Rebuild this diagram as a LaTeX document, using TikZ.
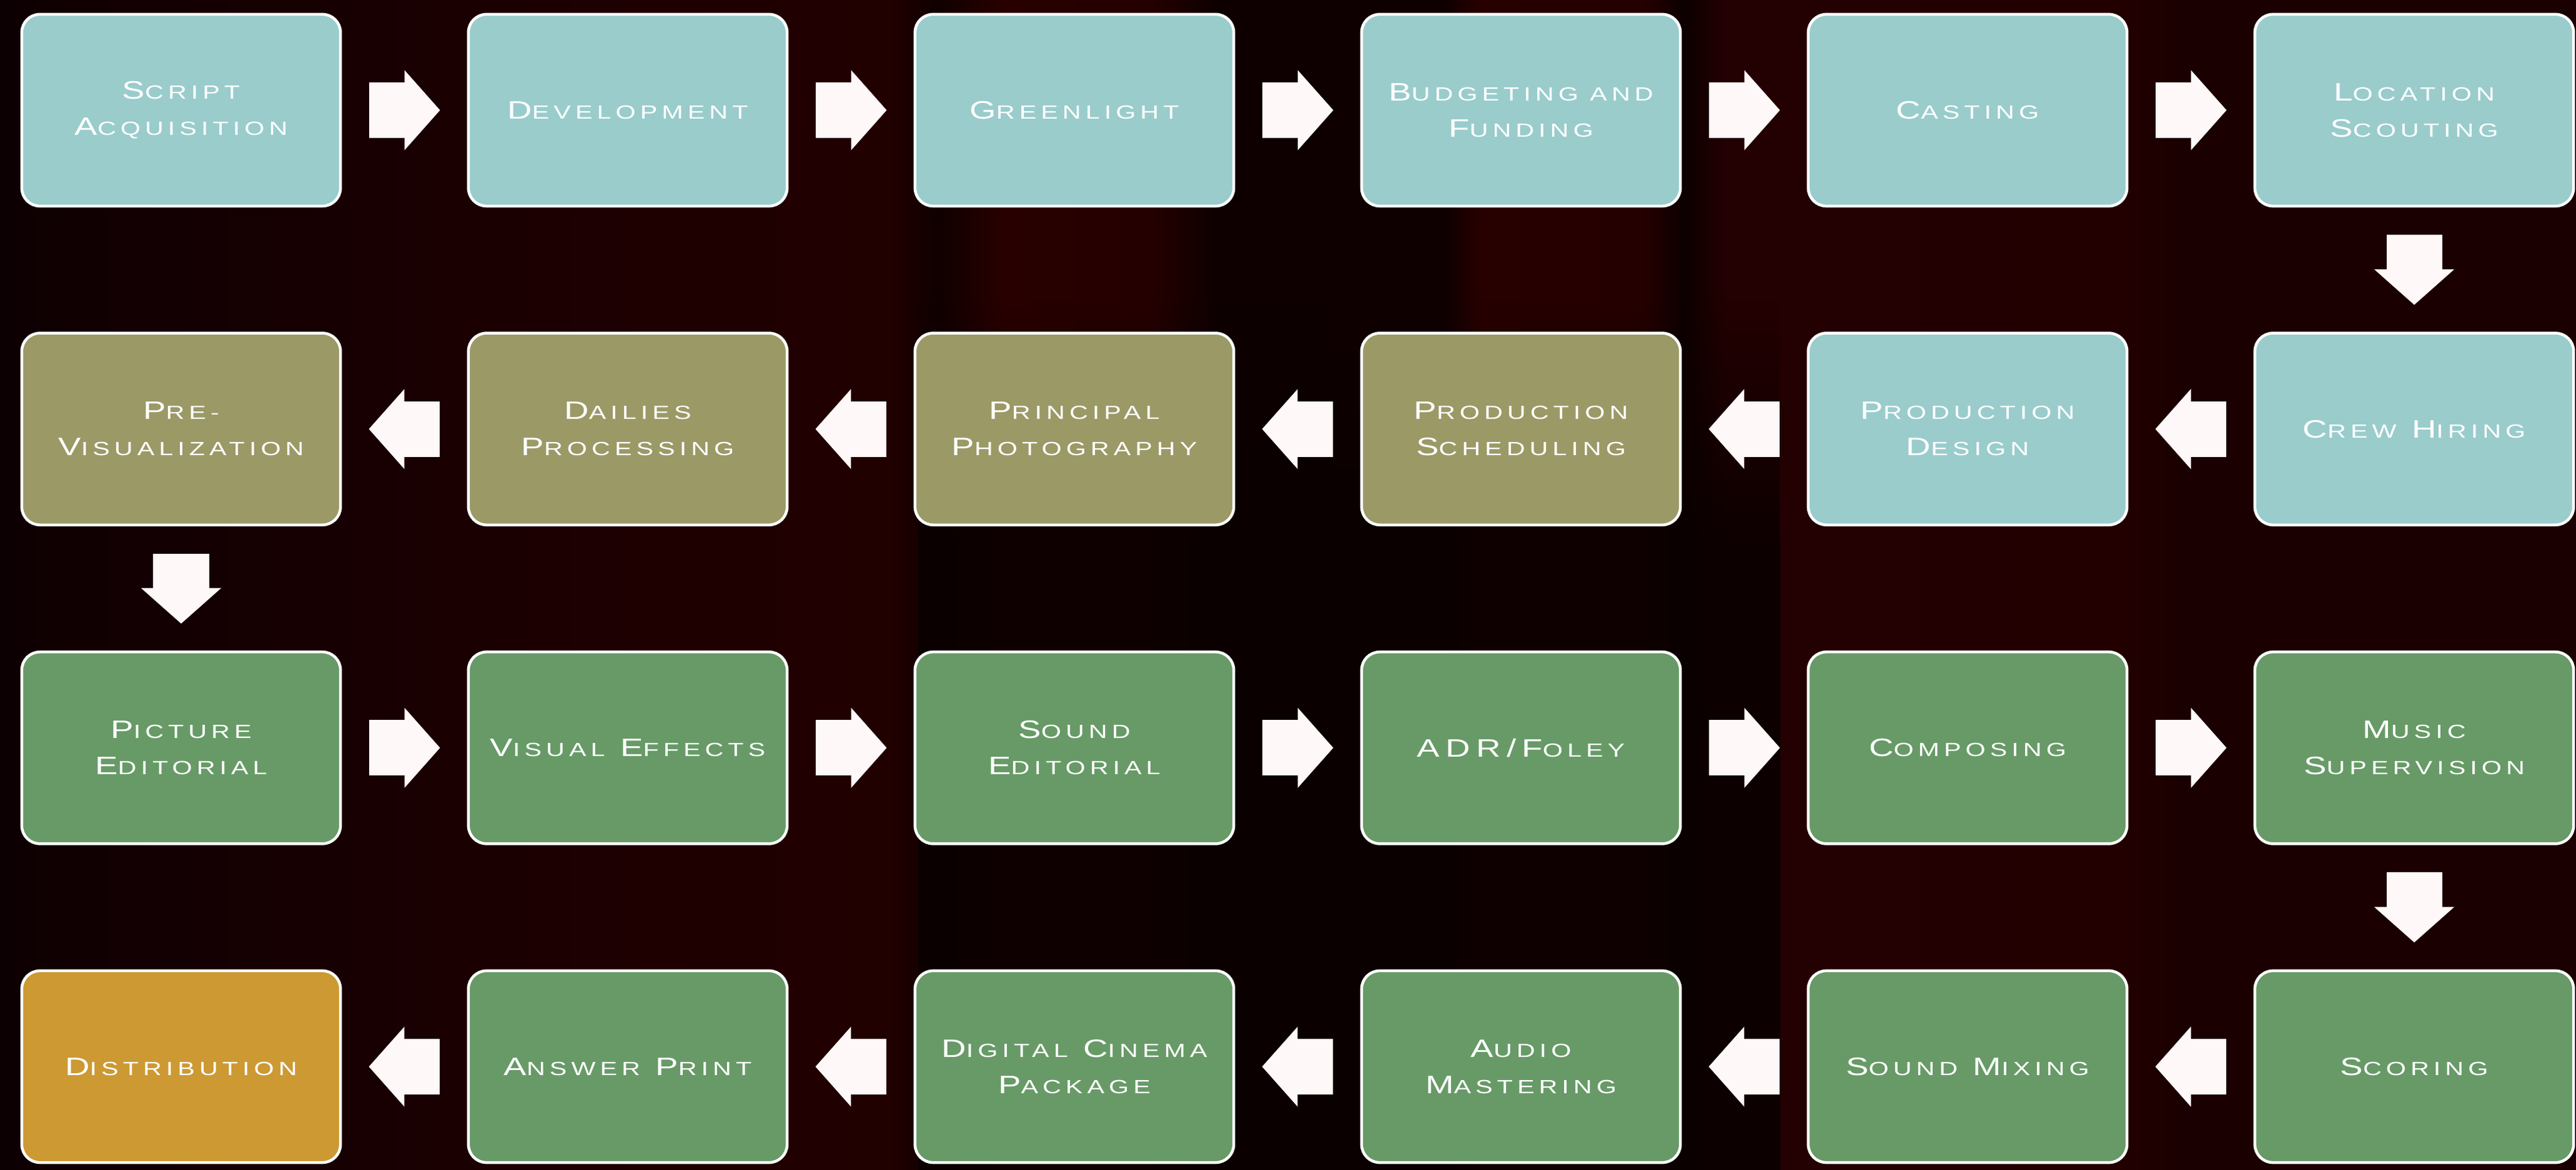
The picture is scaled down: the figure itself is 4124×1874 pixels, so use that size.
\documentclass[tikz,border=0pt]{standalone}
\usepackage{fontspec}
\newfontfamily\boxfont[FakeStretch=1.35,LetterSpace=23]{Liberation Sans}
\usetikzlibrary{arrows.meta,fadings}
\definecolor{cTeal}{HTML}{9ACCCC}
\definecolor{cOlive}{HTML}{9B9966}
\definecolor{cGreen}{HTML}{679A67}
\definecolor{cGold}{HTML}{CC9933}
\definecolor{cArrow}{HTML}{FFF8F8}
\definecolor{bgA}{HTML}{0D0002}
\definecolor{bgB}{HTML}{110002}
\definecolor{bgC}{HTML}{150002}
\definecolor{bgD}{HTML}{1D0001}
\definecolor{bgE}{HTML}{210000}
\definecolor{bgF}{HTML}{100000}
\definecolor{bgG}{HTML}{280000}
\definecolor{bgH}{HTML}{250000}
\definecolor{bgI}{HTML}{0E0000}
\definecolor{bgJ}{HTML}{0F0000}
\definecolor{bgK}{HTML}{270000}
\definecolor{bgL}{HTML}{0D0000}
\definecolor{bgM}{HTML}{230002}
\definecolor{bgN}{HTML}{220000}
\definecolor{bgO}{HTML}{1A0000}
\definecolor{bgDark}{HTML}{0A0000}
\pgfdeclarehorizontalshading{bgshade}{100bp}{color(0bp)=(bgA); color(25bp)=(bgA); color(26.75bp)=(bgB); color(29.78bp)=(bgC); color(36.48bp)=(bgD); color(42.22bp)=(bgE); color(43.18bp)=(bgF); color(44.45bp)=(bgG); color(47.32bp)=(bgH); color(48.6bp)=(bgI); color(53.06bp)=(bgJ); color(53.7bp)=(bgK); color(56.89bp)=(bgH); color(57.69bp)=(bgL); color(58.48bp)=(bgM); color(66.14bp)=(bgN); color(67.41bp)=(bgO); color(75bp)=(bgO); color(100bp)=(bgO)}
\newcommand\sk[2]{#1{\fontsize{8.7}{16.5}\selectfont#2}}
\tikzset{
  box/.style={draw=white, line width=0.45mm, rounded corners=0.29cm,
    minimum width=5.1cm, minimum height=3.07cm, inner sep=0pt, align=center,
    text=white, font=\boxfont\fontsize{11.5}{16.5}\selectfont},
  tealbox/.style={box, fill=cTeal},
  olivebox/.style={box, fill=cOlive},
  greenbox/.style={box, fill=cGreen},
  goldbox/.style={box, fill=cGold},
  flow/.style={draw=cArrow, line width=0.89cm,
    -{Triangle[width=1.25cm,length=0.57cm,fill=cArrow]},
    shorten <=0.435cm, shorten >=0.43cm}
}
\begin{document}
\begin{tikzpicture}[x=0.01cm,y=-0.01cm]
\shade[shading=bgshade] (0,0) rectangle (4124,1874);
% dark silhouette in the middle of the background
\fill[bgDark, opacity=0.85, path fading=north] (1470,480) rectangle (2850,861);
\fill[bgDark, opacity=0.85] (1470,860) rectangle (2850,1874);
\useasboundingbox (0,0) rectangle (4124,1874);
% row 1
\node[tealbox] (n1) at (290,176.5) {\sk{S}{CRIPT}\\\sk{A}{CQUISITION}};
\node[tealbox] (n2) at (1005,176.5) {\sk{D}{EVELOPMENT}};
\node[tealbox] (n3) at (1720,176.5) {\sk{G}{REENLIGHT}};
\node[tealbox] (n4) at (2435,176.5) {\sk{B}{UDGETING AND}\\\sk{F}{UNDING}};
\node[tealbox] (n5) at (3150,176.5) {\sk{C}{ASTING}};
\node[tealbox] (n6) at (3865,176.5) {\sk{L}{OCATION}\\\sk{S}{COUTING}};
% row 2
\node[tealbox] (n7) at (3865,687.2) {\sk{C}{REW} \sk{H}{IRING}};
\node[tealbox] (n8) at (3150,687.2) {\sk{P}{RODUCTION}\\\sk{D}{ESIGN}};
\node[olivebox] (n9) at (2435,687.2) {\sk{P}{RODUCTION}\\\sk{S}{CHEDULING}};
\node[olivebox] (n10) at (1720,687.2) {\sk{P}{RINCIPAL}\\\sk{P}{HOTOGRAPHY}};
\node[olivebox] (n11) at (1005,687.2) {\sk{D}{AILIES}\\\sk{P}{ROCESSING}};
\node[olivebox] (n12) at (290,687.2) {\sk{P}{RE-}\\\sk{V}{ISUALIZATION}};
% row 3
\node[greenbox] (n13) at (290,1197.8) {\sk{P}{ICTURE}\\\sk{E}{DITORIAL}};
\node[greenbox] (n14) at (1005,1197.8) {\sk{V}{ISUAL} \sk{E}{FFECTS}};
\node[greenbox] (n15) at (1720,1197.8) {\sk{S}{OUND}\\\sk{E}{DITORIAL}};
\node[greenbox] (n16) at (2435,1197.8) {\sk{ADR/F}{OLEY}};
\node[greenbox] (n17) at (3150,1197.8) {\sk{C}{OMPOSING}};
\node[greenbox] (n18) at (3865,1197.8) {\sk{M}{USIC}\\\sk{S}{UPERVISION}};
% row 4
\node[greenbox] (n19) at (3865,1708.5) {\sk{S}{CORING}};
\node[greenbox] (n20) at (3150,1708.5) {\sk{S}{OUND} \sk{M}{IXING}};
\node[greenbox] (n21) at (2435,1708.5) {\sk{A}{UDIO}\\\sk{M}{ASTERING}};
\node[greenbox] (n22) at (1720,1708.5) {\sk{D}{IGITAL} \sk{C}{INEMA}\\\sk{P}{ACKAGE}};
\node[greenbox] (n23) at (1005,1708.5) {\sk{A}{NSWER} \sk{P}{RINT}};
\node[goldbox] (n24) at (290,1708.5) {\sk{D}{ISTRIBUTION}};
% connectors
\foreach \a/\b in {n1/n2,n2/n3,n3/n4,n4/n5,n5/n6,n6/n7,n7/n8,n8/n9,n9/n10,n10/n11,n11/n12,n12/n13,n13/n14,n14/n15,n15/n16,n16/n17,n17/n18,n18/n19,n19/n20,n20/n21,n21/n22,n22/n23,n23/n24}
  \draw[flow] (\a) -- (\b);
\end{tikzpicture}
\end{document}
